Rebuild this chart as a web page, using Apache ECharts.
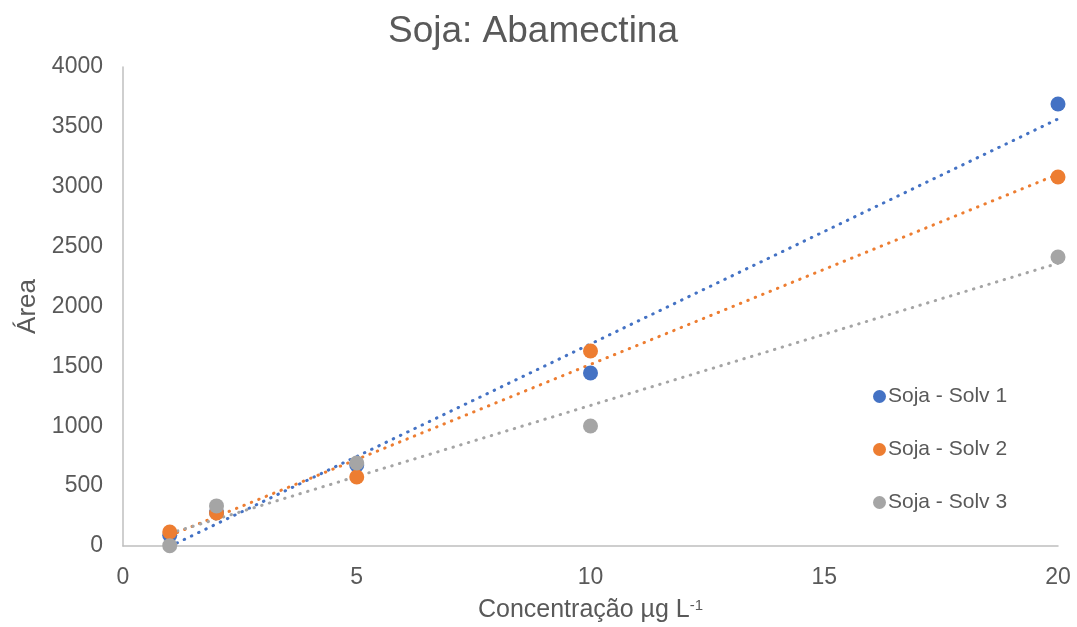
<!DOCTYPE html>
<html>
<head>
<meta charset="utf-8">
<script src="https://cdn.jsdelivr.net/npm/echarts@6/dist/echarts.min.js"></script>
<style>
  html, body { margin: 0; padding: 0; background: #fff; }
  #chart { width: 1077px; height: 627px; }
</style>
</head>
<body>
<div id="chart"></div>
<script>
// Concentration levels (µg L-1) and peak areas per solvent
const concentrations = [1, 2, 5, 10, 20];
const solv1 = [90, 280, 676, 1445, 3691];
const solv2 = [117, 275, 576, 1628, 3081];
const solv3 = [3, 335, 693, 1002, 2413];

const seriesNames = ['Soja - Solv 1', 'Soja - Solv 2', 'Soja - Solv 3'];
const seriesColors = ['#4472C4', '#ED7D31', '#A5A5A5'];
const xTicks = [0, 5, 10, 15, 20];
const yTicks = [0, 500, 1000, 1500, 2000, 2500, 3000, 3500, 4000];

const FONT = '"Liberation Sans", Arial, sans-serif';
const TEXT = '#595959';

// Least-squares linear trend over the measured points
function linearFit(xs, ys) {
  const n = xs.length;
  const mx = xs.reduce((a, b) => a + b, 0) / n;
  const my = ys.reduce((a, b) => a + b, 0) / n;
  let sxy = 0, sxx = 0;
  for (let i = 0; i < n; i++) {
    sxy += (xs[i] - mx) * (ys[i] - my);
    sxx += (xs[i] - mx) * (xs[i] - mx);
  }
  const slope = sxy / sxx;
  return { slope, intercept: my - slope * mx };
}

const allValues = [solv1, solv2, solv3];
const series = [];

allValues.forEach((vals, i) => {
  const fit = linearFit(concentrations, vals);
  const x0 = concentrations[0];
  const x1 = concentrations[concentrations.length - 1];
  series.push({
    name: seriesNames[i] + ' trend',
    type: 'line',
    data: [[x0, fit.intercept + fit.slope * x0], [x1, fit.intercept + fit.slope * x1]],
    showSymbol: false,
    symbol: 'none',
    silent: true,
    z: 1,
    lineStyle: { color: seriesColors[i], width: 3, type: [0.5, 7.5], cap: 'round' }
  });
});

allValues.forEach((vals, i) => {
  series.push({
    name: seriesNames[i],
    type: 'scatter',
    data: concentrations.map((c, k) => [c, vals[k]]),
    symbol: 'circle',
    symbolSize: 15,
    z: 3,
    itemStyle: { color: seriesColors[i], opacity: 1 }
  });
});

const chart = echarts.init(document.getElementById('chart'), null, { renderer: 'canvas' });
chart.setOption({
  animation: false,
  backgroundColor: '#ffffff',
  title: {
    text: 'Soja: Abamectina',
    left: 528,
    textAlign: 'center',
    top: 8,
    textStyle: { fontFamily: FONT, fontSize: 37, fontWeight: 'normal', color: TEXT }
  },
  legend: {
    data: seriesNames,
    orient: 'vertical',
    left: 868,
    top: 381,
    itemGap: 32,
    itemWidth: 13,
    itemHeight: 13,
    icon: 'circle',
    textStyle: { fontFamily: FONT, fontSize: 21, color: TEXT, padding: [0, 0, 0, -3] }
  },
  grid: { left: 123, right: 19, top: 67, bottom: 81, containLabel: false, outerBoundsMode: 'none' },
  xAxis: {
    type: 'value',
    min: xTicks[0],
    max: xTicks[xTicks.length - 1],
    interval: xTicks[1] - xTicks[0],
    name: 'Concentração µg L{sup|-1}',
    nameLocation: 'middle',
    nameGap: 52,
    nameTextStyle: {
      fontFamily: FONT, fontSize: 25, color: TEXT,
      rich: { sup: { fontFamily: FONT, fontSize: 15, color: TEXT, verticalAlign: 'top', padding: [0, 0, 10, 0] } }
    },
    axisLine: { show: true, lineStyle: { color: '#BFBFBF', width: 1.5 } },
    axisTick: { show: false },
    splitLine: { show: false },
    axisLabel: { fontFamily: FONT, fontSize: 23, color: TEXT, margin: 20 }
  },
  yAxis: {
    type: 'value',
    min: yTicks[0],
    max: yTicks[yTicks.length - 1],
    interval: yTicks[1] - yTicks[0],
    name: 'Área',
    nameLocation: 'middle',
    nameGap: 78,
    nameRotate: 90,
    nameTextStyle: { fontFamily: FONT, fontSize: 26, color: TEXT },
    axisLine: { show: true, lineStyle: { color: '#BFBFBF', width: 1.5 } },
    axisTick: { show: false },
    splitLine: { show: false },
    axisLabel: { fontFamily: FONT, fontSize: 23, color: TEXT, margin: 20, formatter: v => String(v) }
  },
  series: series
});
</script>
</body>
</html>
